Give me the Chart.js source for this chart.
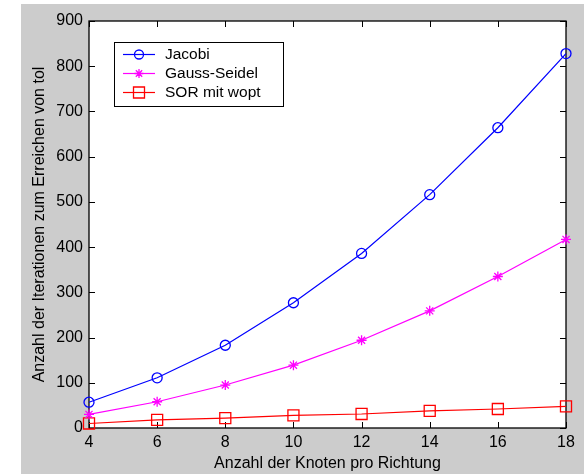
<!DOCTYPE html>
<html>
<head>
<meta charset="utf-8">
<script src="https://cdn.jsdelivr.net/npm/chart.js@4/dist/chart.umd.min.js"></script>
<style>
html,body{margin:0;padding:0;background:#ffffff;}
#wrap{position:absolute;left:21px;top:4px;width:563px;height:470px;background:#cccccc;}
canvas{display:block;}
</style>
</head>
<body>
<div id="wrap"><canvas id="c" width="563" height="470"></canvas></div>
<script>
const knots = [4, 6, 8, 10, 12, 14, 16, 18];
const jacobi = [57, 111, 183, 277, 386, 516, 664, 828];
const gaussSeidel = [30, 58, 95, 139, 194, 259, 335, 417];
const sor = [10, 18, 22, 28, 31, 38, 42, 48];
const seriesLabels = ['Jacobi', 'Gauss-Seidel', 'SOR mit wopt'];
const seriesColors = ['#0000ff', '#ff00ff', '#ff0000'];
const seriesMarkers = ['circle', 'star', 'rect'];
const markerRadius = [5, 5, 7.8];
const xTitle = 'Anzahl der Knoten pro Richtung';
const yTitle = 'Anzahl der Iterationen zum Erreichen von tol';

const FONT = 'Liberation Sans, Arial, Helvetica, sans-serif';

function mk(vals){ return knots.map((k,i)=>({x:k, y:vals[i]})); }
const allVals = [jacobi, gaussSeidel, sor];

const datasets = allVals.map((v,i)=>({
  label: seriesLabels[i],
  data: mk(v),
  borderColor: seriesColors[i],
  backgroundColor: 'rgba(0,0,0,0)',
  borderWidth: 1.2,
  pointStyle: seriesMarkers[i],
  pointRadius: markerRadius[i],
  pointBorderColor: seriesColors[i],
  pointBackgroundColor: 'rgba(0,0,0,0)',
  pointBorderWidth: 1.3,
  tension: 0,
  clip: false
}));

const framePlugin = {
  id: 'frame',
  beforeDatasetsDraw(chart){
    const {ctx, chartArea:a, scales} = chart;
    ctx.save();
    ctx.fillStyle = '#ffffff';
    ctx.fillRect(a.left, a.top, a.right-a.left, a.bottom-a.top);
    ctx.strokeStyle = '#000000';
    ctx.lineWidth = 1;
    const tl = 6;
    ctx.beginPath();
    scales.x.ticks.forEach(t=>{
      const px = Math.round(scales.x.getPixelForValue(t.value)) + 0.5;
      ctx.moveTo(px, a.bottom); ctx.lineTo(px, a.bottom - tl);
      ctx.moveTo(px, a.top); ctx.lineTo(px, a.top + tl);
    });
    scales.y.ticks.forEach(t=>{
      const py = Math.round(scales.y.getPixelForValue(t.value)) + 0.5;
      ctx.moveTo(a.left, py); ctx.lineTo(a.left + tl, py);
      ctx.moveTo(a.right, py); ctx.lineTo(a.right - tl, py);
    });
    ctx.stroke();
    ctx.lineWidth = 1.3;
    ctx.strokeRect(a.left, a.top, a.right-a.left, a.bottom-a.top);
    ctx.restore();
  },
  afterDraw(chart){
    const {ctx, chartArea:a} = chart;
    const bx = a.left + 25, by = a.top + 21, bw = 169, bh = 64;
    ctx.save();
    ctx.fillStyle = '#ffffff';
    ctx.fillRect(bx, by, bw, bh);
    ctx.strokeStyle = '#000000';
    ctx.lineWidth = 1;
    ctx.strokeRect(bx + 0.5, by + 0.5, bw, bh);
    ctx.font = '15.5px ' + FONT;
    ctx.textBaseline = 'middle';
    ctx.textAlign = 'left';
    chart.data.datasets.forEach((ds, i)=>{
      const y = by + 12 + i*19;
      ctx.strokeStyle = ds.borderColor;
      ctx.lineWidth = 1.2;
      ctx.beginPath();
      ctx.moveTo(bx + 9, y + 0.5); ctx.lineTo(bx + 41, y + 0.5);
      ctx.stroke();
      ctx.save();
      ctx.strokeStyle = ds.borderColor;
      ctx.lineWidth = 1.3;
      ctx.beginPath();
      if (ds.pointStyle === 'circle') { ctx.arc(bx + 25, y + 0.5, 4.5, 0, Math.PI*2); }
      else if (ds.pointStyle === 'rect') { ctx.rect(bx + 19.5, y - 5, 11, 11); }
      else {
        const r = 4.5, cx = bx + 25, cy = y + 0.5, d = r*Math.SQRT1_2;
        ctx.moveTo(cx - r, cy); ctx.lineTo(cx + r, cy);
        ctx.moveTo(cx, cy - r); ctx.lineTo(cx, cy + r);
        ctx.moveTo(cx - d, cy - d); ctx.lineTo(cx + d, cy + d);
        ctx.moveTo(cx - d, cy + d); ctx.lineTo(cx + d, cy - d);
      }
      ctx.stroke();
      ctx.restore();
      ctx.fillStyle = '#000000';
      ctx.fillText(ds.label, bx + 51, y + 1);
    });
    ctx.restore();
  }
};

new Chart(document.getElementById('c'), {
  type: 'line',
  data: { datasets },
  options: {
    responsive: false,
    animation: false,
    layout: { padding: { left: 0, top: 17, right: 18, bottom: 0 } },
    plugins: { legend: { display: false }, tooltip: { enabled: false } },
    scales: {
      x: {
        type: 'linear', min: 4, max: 18,
        ticks: { stepSize: 2, color: '#000000', padding: 5, font: { family: FONT, size: 16 }, maxRotation: 0 },
        grid: { display: false, drawTicks: false },
        border: { display: false },
        title: { display: true, text: xTitle, color: '#000000', font: { family: FONT, size: 16 }, padding: { top: 0, bottom: 1 } },
        afterFit(s){ s.height = 46; }
      },
      y: {
        type: 'linear', min: 0, max: 900,
        ticks: { stepSize: 100, color: '#000000', padding: 6, font: { family: FONT, size: 16 } },
        grid: { display: false, drawTicks: false },
        border: { display: false },
        title: { display: true, text: yTitle, color: '#000000', font: { family: FONT, size: 16 }, padding: { top: 9, bottom: 0 } },
        afterFit(s){ s.width = 68; }
      }
    }
  },
  plugins: [framePlugin]
});
</script>
</body>
</html>
